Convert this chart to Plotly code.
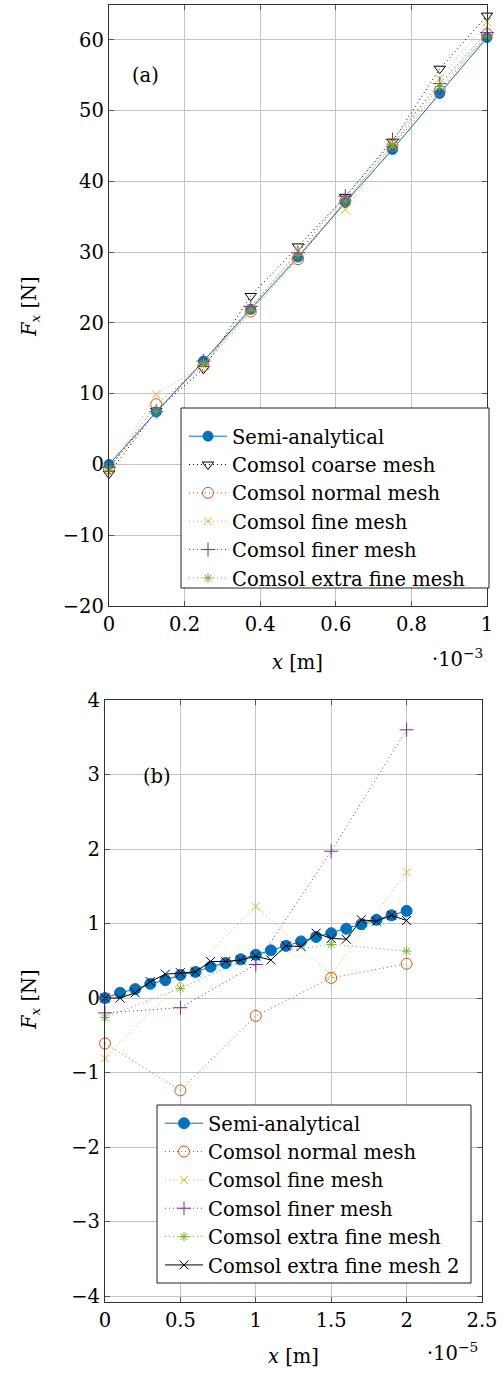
import plotly.graph_objects as go

# ---------------- data: panel (a) ----------------
xa = [0.0, 0.125e-3, 0.25e-3, 0.375e-3, 0.5e-3, 0.625e-3, 0.75e-3, 0.875e-3, 1.0e-3]
a_semi = [0.0, 7.4, 14.6, 21.9, 29.3, 37.0, 44.5, 52.4, 60.3]
a_coarse = [-1.3, 7.6, 13.5, 23.8, 30.8, 37.8, 45.6, 55.9, 63.4]
a_normal = [-0.6, 8.5, 13.9, 21.6, 29.0, 37.2, 45.0, 52.8, 60.8]
a_fine = [-1.0, 9.9, 14.0, 22.1, 30.2, 36.0, 45.0, 54.5, 62.5]
a_finer = [-0.4, 7.5, 14.6, 22.3, 29.9, 37.9, 45.9, 53.8, 61.0]
a_xfine = [-0.5, 7.5, 14.3, 21.8, 29.5, 37.2, 45.2, 53.4, 60.5]

# ---------------- data: panel (b) ----------------
xb_semi = [i * 1e-6 for i in range(21)]
b_semi = [0.0, 0.07, 0.12, 0.19, 0.24, 0.31, 0.35, 0.42, 0.47, 0.52, 0.58,
          0.64, 0.70, 0.76, 0.82, 0.87, 0.93, 0.99, 1.05, 1.11, 1.17]
b_xfine2 = [0.0, 0.0, 0.07, 0.22, 0.32, 0.34, 0.35, 0.49, 0.49, 0.51, 0.56,
            0.51, 0.70, 0.69, 0.87, 0.80, 0.79, 1.05, 1.03, 1.11, 1.04]
xb = [0.0, 0.5e-5, 1.0e-5, 1.5e-5, 2.0e-5]
b_normal = [-0.61, -1.24, -0.24, 0.27, 0.46]
b_fine = [-0.81, 0.22, 1.23, 0.31, 1.69]
b_finer = [-0.20, -0.13, 0.45, 1.97, 3.60]
b_xfine = [-0.26, 0.13, 0.58, 0.72, 0.63]

# tick labels
xa_tickvals = [0, 0.2e-3, 0.4e-3, 0.6e-3, 0.8e-3, 1.0e-3]
xa_ticktext = ["0", "0.2", "0.4", "0.6", "0.8", "1"]
xb_tickvals = [0, 0.5e-5, 1.0e-5, 1.5e-5, 2.0e-5, 2.5e-5]
xb_ticktext = ["0", "0.5", "1", "1.5", "2", "2.5"]

BLUE = "#0072BD"
ORANGE = "#D95319"
YELLOW = "#EDB120"
PURPLE = "#7E2F8E"
GREEN = "#77AC30"
BLACK = "#000000"

FONT = "DejaVu Serif"
FS = 19.5
DOT = "1px,3px"

W, H = 501, 1374

fig = go.Figure()

RANK = {"Semi-analytical": 1, "Comsol coarse mesh": 2, "Comsol normal mesh": 3,
        "Comsol fine mesh": 4, "Comsol finer mesh": 5,
        "Comsol extra fine mesh": 6, "Comsol extra fine mesh 2": 7}

def add(x, y, name, color, symbol, size, dash, xa_, ya_, legend, width=1):
    fig.add_trace(go.Scatter(
        x=x, y=y, name=name, mode="lines+markers", cliponaxis=False,
        line=dict(color=color, width=width, dash=dash),
        marker=dict(color=color, symbol=symbol, size=size,
                    line=dict(color=color, width=1)),
        xaxis=xa_, yaxis=ya_, legend=legend, legendrank=RANK[name],
    ))

# panel (a)
add(xa, a_coarse, "Comsol coarse mesh", BLACK, "triangle-down-open", 10, DOT, "x", "y", "legend")
add(xa, a_semi, "Semi-analytical", BLUE, "circle", 10, "solid", "x", "y", "legend")
add(xa, a_normal, "Comsol normal mesh", ORANGE, "circle-open", 11, DOT, "x", "y", "legend")
add(xa, a_fine, "Comsol fine mesh", YELLOW, "x-thin-open", 8, DOT, "x", "y", "legend")
add(xa, a_finer, "Comsol finer mesh", PURPLE, "cross-thin-open", 10, DOT, "x", "y", "legend")
add(xa, a_xfine, "Comsol extra fine mesh", GREEN, "asterisk-open", 8, DOT, "x", "y", "legend")

# panel (b)
add(xb, b_normal, "Comsol normal mesh", ORANGE, "circle-open", 11, DOT, "x2", "y2", "legend2")
add(xb, b_fine, "Comsol fine mesh", YELLOW, "x-thin-open", 8, DOT, "x2", "y2", "legend2")
add(xb, b_finer, "Comsol finer mesh", PURPLE, "cross-thin-open", 10, DOT, "x2", "y2", "legend2")
add(xb, b_xfine, "Comsol extra fine mesh", GREEN, "asterisk-open", 8, DOT, "x2", "y2", "legend2")
add(xb_semi, b_semi, "Semi-analytical", BLUE, "circle", 11, "solid", "x2", "y2", "legend2")
add(xb_semi, b_xfine2, "Comsol extra fine mesh 2", BLACK, "x-thin-open", 9, "solid", "x2", "y2", "legend2")

def px_x(p):
    return p / W

def px_y(p):
    return 1 - p / H

axis_common = dict(
    showgrid=True, gridcolor="#c4c4c4", gridwidth=1,
    showline=True, linecolor="#333333", linewidth=1.3, mirror="allticks",
    ticks="inside", ticklen=5, tickcolor="#555555", tickwidth=1.3,
    zeroline=False, automargin=False,
    tickfont=dict(family=FONT, size=FS, color="black"),
)

legend_common = dict(xanchor="left", yanchor="top",
                     bgcolor="rgba(0,0,0,0)", borderwidth=0,
                     font=dict(family=FONT, size=FS, color="black"),
                     itemwidth=38, traceorder="normal")

fig.update_layout(
    width=W, height=H, autosize=False,
    margin=dict(l=0, r=0, t=0, b=0, pad=0, autoexpand=False),
    plot_bgcolor="white", paper_bgcolor="white",
    font=dict(family=FONT, size=FS, color="black"),
    xaxis=dict(domain=[px_x(109), px_x(487)], range=[0, 1.0e-3],
               tickvals=xa_tickvals, ticktext=xa_ticktext, anchor="y", **axis_common),
    yaxis=dict(domain=[px_y(606), px_y(5)], range=[-20, 64.9], dtick=10,
               anchor="x", **axis_common),
    xaxis2=dict(domain=[px_x(105), px_x(482)], range=[0, 2.5e-5],
                tickvals=xb_tickvals, ticktext=xb_ticktext, anchor="y2", **axis_common),
    yaxis2=dict(domain=[px_y(1302), px_y(700)], range=[-4.08, 4], dtick=1,
                anchor="x2", **axis_common),
    legend=dict(x=px_x(184), y=px_y(417), **legend_common),
    legend2=dict(x=px_x(160), y=px_y(1104), **legend_common),
    showlegend=True,
)

# legend frames
for (x0, y0, x1, y1) in [(181, 408, 489, 588), (157, 1105, 471, 1283)]:
    fig.add_shape(type="rect", xref="paper", yref="paper",
                  x0=px_x(x0), x1=px_x(x1), y0=px_y(y1), y1=px_y(y0),
                  fillcolor="white", line=dict(color="#222222", width=1),
                  layer="above")

ann = [
    dict(text="(a)", x=px_x(145), y=px_y(76)),
    dict(text="(b)", x=px_x(157), y=px_y(776)),
    dict(text="<i>x</i> [m]", x=px_x(297), y=px_y(662)),
    dict(text="·10<sup>−3</sup>", x=px_x(457), y=px_y(658)),
    dict(text="<i>x</i> [m]", x=px_x(293), y=px_y(1356)),
    dict(text="·10<sup>−5</sup>", x=px_x(452), y=px_y(1352)),
    dict(text="<i>F<sub>x</sub></i> [N]", x=px_x(30), y=px_y(307), textangle=-90),
    dict(text="<i>F<sub>x</sub></i> [N]", x=px_x(30), y=px_y(1000), textangle=-90),
]
for a in ann:
    fig.add_annotation(xref="paper", yref="paper", showarrow=False,
                       xanchor="center", yanchor="middle",
                       font=dict(family=FONT, size=FS, color="black"), **a)

fig.write_html(
    "out.html",
    config={"displayModeBar": False},
    post_script="document.body.style.margin='0';document.body.style.padding='0';"
                "document.documentElement.style.overflow='hidden';",
)
